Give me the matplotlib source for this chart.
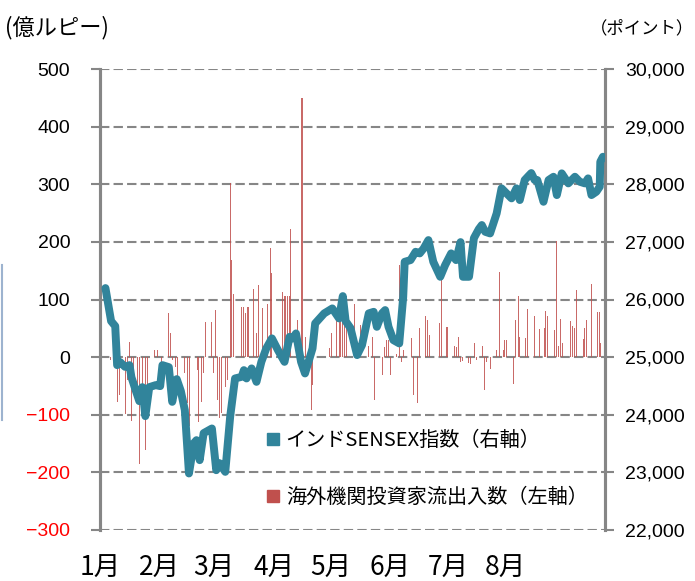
import matplotlib
matplotlib.use("Agg")
import matplotlib.pyplot as plt
from matplotlib.lines import Line2D
from matplotlib.ticker import FuncFormatter

plt.rcParams['font.family'] = ['Noto Sans CJK JP', 'DejaVu Sans']

# days since 1 Jan for the SENSEX line, and index values (points)
sensex_day = [0.4, 3.4, 5.6, 6.6, 8.2, 10.8, 13.2, 14.2, 16.8, 18.4, 20.0, 21.6, 23.7, 27.1,
              29.5, 30.7, 34.1, 35.9, 38.3, 40.5, 42.6, 44.8, 47.4, 48.8, 50.5, 52.6, 57.0,
              59.3, 61.0, 64.1, 66.7, 69.3, 72.8, 74.0, 75.4, 78.1, 80.7, 83.3, 85.9, 88.9,
              92.1, 95.6, 98.3, 100.0, 101.7, 104.4, 106.5, 110.5, 111.9, 116.7, 121.0, 124.6,
              126.6, 128.1, 130.7, 134.2, 136.8, 140.4, 143.0, 144.7, 147.4, 149.1, 150.9,
              153.5, 156.6, 158.7, 159.5, 162.6, 165.3, 167.5, 169.6, 172.1, 174.7, 178.4,
              181.0, 184.2, 186.8, 189.2, 190.5, 193.7, 196.3, 198.9, 200.5, 202.3, 204.9,
              208.4, 211.0, 213.7, 216.3, 218.9, 220.7, 223.3, 225.3, 226.8, 228.6, 230.0,
              233.3, 236.0, 238.6, 240.4, 243.0, 246.5, 250.0, 252.6, 255.3, 257.0, 258.8,
              261.4, 263.2, 263.5, 264.9]
sensex = [26198, 25625, 25538, 24861, 24913, 24832, 24861, 24653, 24392, 24236, 24479, 23976,
          24479, 24514, 24497, 24861, 24826, 24224, 24618, 24410, 24080, 22981, 23507, 23559,
          23212, 23681, 23762, 23038, 23160, 23009, 23964, 24630, 24658, 24774, 24630, 24804,
          24571, 24918, 25151, 25325, 25122, 24918, 25352, 25325, 25411, 24918, 24717, 25151,
          25585, 25759, 25845, 25672, 26059, 25625, 25503, 25035, 25208, 25759, 25786, 25526,
          25759, 25816, 25526, 25295, 25238, 26042, 26654, 26684, 26828, 26800, 26887, 27031,
          26654, 26394, 26597, 26800, 26684, 26996, 26394, 26394, 27066, 27222, 27292, 27175,
          27147, 27495, 27929, 27840, 27755, 27929, 27726, 28073, 28143, 28194, 28073, 28073,
          27696, 28073, 28130, 27812, 28189, 28015, 28130, 28043, 28015, 28102, 27812, 27870,
          27957, 28390, 28477]

# foreign institutional investor net flows (100 million rupees)
flow_day = [3.2, 6.6, 7.8, 10.9, 12.1, 13.2, 14.2, 15.5, 17.4, 18.7, 20.0, 21.8, 22.7, 26.3,
            28.3, 30.0, 33.7, 34.8, 36.1, 37.4, 38.9, 41.1, 42.5, 43.9, 45.3, 49.1, 50.0,
            51.4, 52.3, 53.5, 56.7, 57.9, 58.8, 60.2, 61.1, 61.9, 64.4, 65.4, 66.7, 67.5,
            68.6, 72.8, 73.8, 74.9, 75.9, 76.7, 79.3, 80.5, 81.7, 83.7, 86.8, 88.1, 88.9,
            94.4, 95.4, 96.3, 97.2, 98.1, 98.9, 102.5, 103.3, 104.6, 105.4, 106.7, 109.8,
            110.7, 119.5, 120.7, 123.0, 124.7, 125.6, 126.5, 127.4, 128.8, 132.6, 135.8,
            140.2, 142.5, 143.3, 147.7, 148.9, 150.0, 150.8, 152.1, 155.3, 156.5, 157.7,
            158.8, 163.0, 164.1, 166.5, 167.5, 170.5, 171.4, 172.6, 173.5, 177.9, 179.3,
            181.6, 182.5, 185.9, 186.8, 187.9, 189.1, 190.0, 193.5, 194.4, 195.3, 196.5,
            197.9, 200.9, 201.9, 203.2, 204.9, 208.4, 209.8, 210.7, 211.9, 212.8, 213.7,
            217.2, 218.6, 219.8, 220.7, 223.7, 224.7, 225.6, 227.2, 228.4, 231.2, 232.5,
            233.8, 234.6, 235.6, 239.1, 240.4, 241.2, 242.1, 243.3, 247.7, 248.8, 249.6,
            250.9, 254.4, 255.3, 256.2, 257.5, 258.8, 261.9, 263.2, 263.7]
flow = [-5, -78, -66, -98, -40, 27, -110, -60, -70, -186, -78, -161, -106, 12,
        12, -17, 76, 41, -5, -17, -45, -23, -28, -80, -120, -23, -112,
        -78, -28, 61, 61, -28, 82, -75, -106, -97, -52, -40, 302, 168,
        110, 87, 87, 76, 87, 87, 118, 41, 125, 85, 93, 189, 146,
        113, 106, 106, 106, 106, 223, 64, 152, 449, 449, 35, -92,
        -49, 15, 41, 79, 80, 80, 80, 76, 58, 93, 56,
        20, 35, -75, -31, 18, 30, 30, -31, 5, 160, -8,
        12, 33, -66, -80, 50, 71, 64, 38, 33, 60, 140,
        53, 53, 20, 18, 35, -8, -6, -10, -12, -52, 25,
        -5, 20, -57, -8, -20, 13, 148, -28, 13, 30, 30,
        -46, 64, 106, 35, 33, 83, 139, 58, 71, 48, 44,
        51, 80, 71, 47, 201, 20, 66, 24, 62, 54, 50,
        116, 31, 50, 64, 127, 127, 78, 78, 25]

month_pos = [-2.5, 29, 58, 90, 120, 151.5, 182.5, 213]
month_labels = ['1月', '2月', '3月', '4月', '5月', '6月', '7月', '8月']

bar_color = '#C0504D'
line_color = '#31849B'
grid_color = '#868686'

fig = plt.figure(figsize=(6.95, 5.81), dpi=100)
ax = fig.add_axes([100 / 695, 51 / 581, 505 / 695, 461 / 581])
ax2 = ax.twinx()

ax.bar(flow_day, flow, width=0.5, color=bar_color, linewidth=0, alpha=0.85, zorder=2)
ax.set_ylim(-300, 500)
ax.set_yticks(range(-300, 501, 100))
ax.set_xlim(0, 266)
ax.grid(axis='y', color=grid_color, linestyle=(0, (4.5, 2)), linewidth=1.5, zorder=0)
ax.set_axisbelow(True)

ax2.plot(sensex_day, sensex, color=line_color, linewidth=5.7, solid_joinstyle='round',
         solid_capstyle='round', zorder=3)
ax2.set_ylim(22000, 30000)
ax2.set_yticks(range(22000, 30001, 1000))
ax2.yaxis.set_major_formatter(FuncFormatter(lambda v, p: f'{int(v):,}'))

for a in (ax, ax2):
    for s in ('top', 'bottom'):
        a.spines[s].set_visible(False)
    a.spines['left'].set_color(grid_color)
    a.spines['right'].set_color(grid_color)
    a.spines['left'].set_linewidth(2.2)
    a.spines['right'].set_linewidth(2.2)
    a.tick_params(axis='y', colors=grid_color, width=1.5, length=6.5)
    for lab in a.get_yticklabels():
        lab.set_family('Liberation Sans')
        lab.set_fontsize(14)
ax.tick_params(axis='y', pad=15)
ax2.tick_params(axis='y', pad=8)

for lab, v in zip(ax.get_yticklabels(), range(-300, 501, 100)):
    lab.set_color('#FF0000' if v < 0 else 'black')
for lab in ax2.get_yticklabels():
    lab.set_color('black')

ax.set_xticks(month_pos)
ax.set_xticklabels(month_labels, fontsize=19)
ax.tick_params(axis='x', length=0, pad=18)

handles = [Line2D([], [], marker='s', linestyle='none', color=line_color, markersize=8),
           Line2D([], [], marker='s', linestyle='none', color=bar_color, markersize=8)]
ax.legend(handles, ['インドSENSEX指数（右軸）', '海外機関投資家流出入数（左軸）'],
          loc='lower left', bbox_to_anchor=(0.288, 0.009), frameon=False, fontsize=14.5,
          labelspacing=1.75, handletextpad=0.2, handlelength=0.9)

fig.text(5 / 695, 1 - 28 / 581, '(億ルピー)', fontsize=16, va='center', ha='left')
fig.text(694 / 695, 1 - 28 / 581, '（ポイント）', fontsize=12.5, va='center', ha='right')
fig.add_artist(Line2D([1.5 / 695, 1.5 / 695], [1 - 265 / 581, 1 - 420 / 581],
                      color='#9DB3CF', linewidth=1.5))

fig.savefig('out.png', dpi=100)
